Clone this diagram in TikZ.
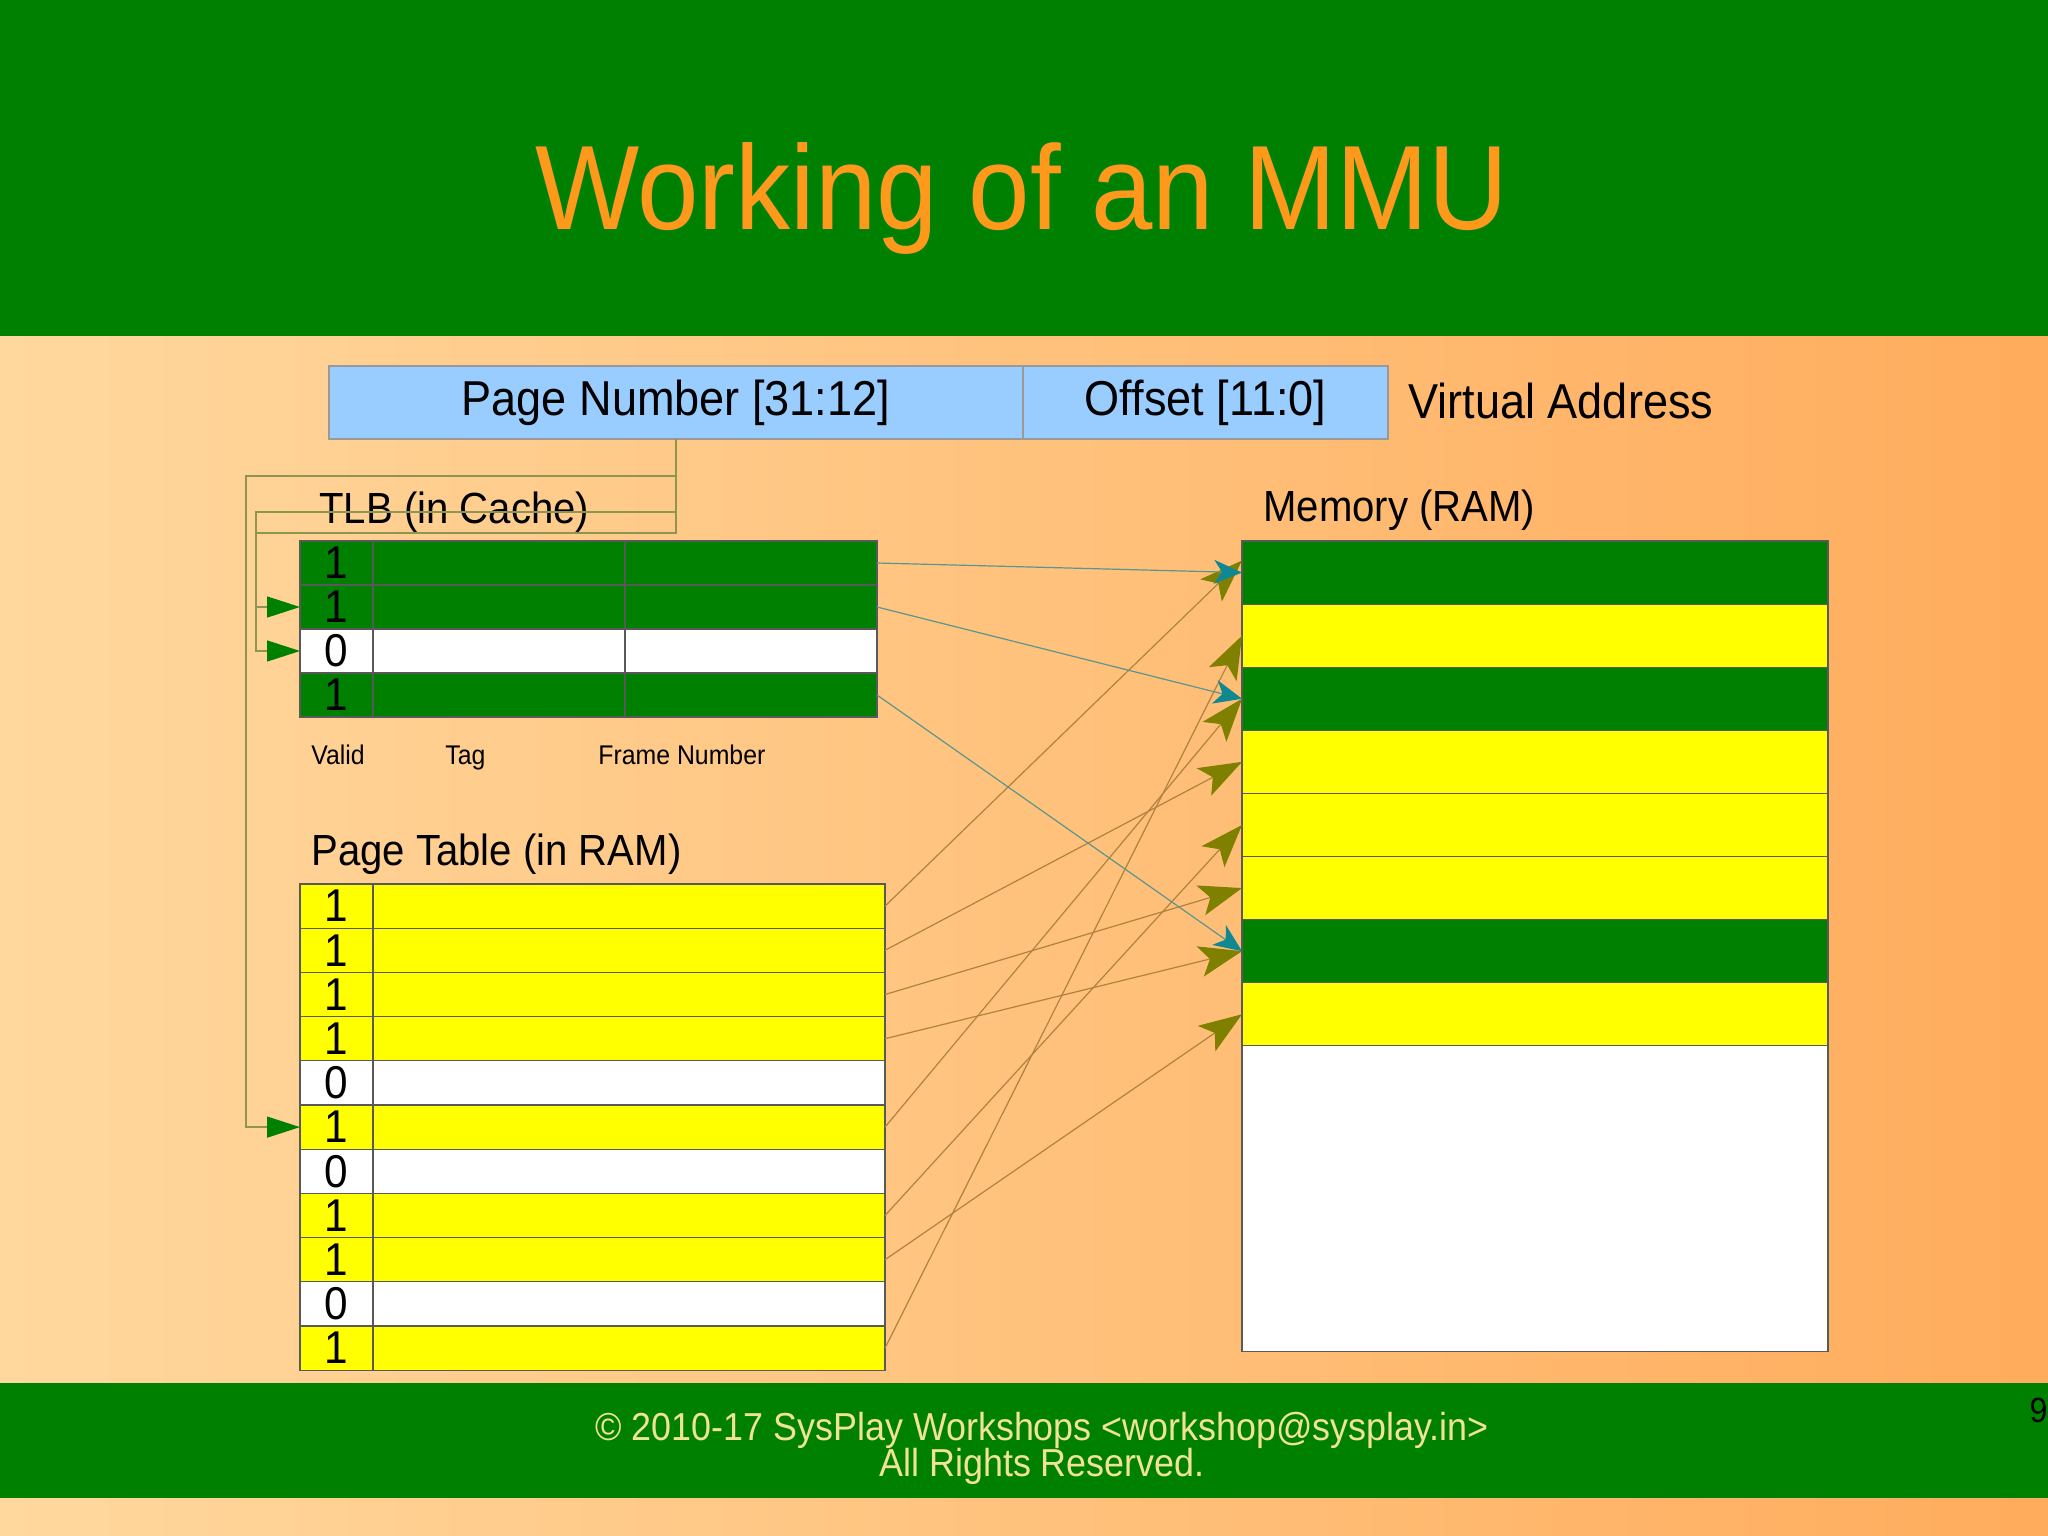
\documentclass[tikz,border=0pt]{standalone}
\usepackage{fontspec}
\setmainfont{Liberation Sans}[FakeStretch=0.92]
\usetikzlibrary{arrows.meta, positioning, calc}

\definecolor{slidegreen}{RGB}{0,128,0}
\definecolor{titleorange}{RGB}{255,153,28}
\definecolor{footyellow}{RGB}{240,226,150}
\definecolor{bgleft}{RGB}{255,216,158}
\definecolor{bgright}{RGB}{255,172,92}
\definecolor{vablue}{RGB}{153,204,255}
\definecolor{memyellow}{RGB}{255,255,0}
\definecolor{routecol}{RGB}{140,150,80}
\definecolor{ptecol}{RGB}{176,130,64}
\definecolor{ptehead}{RGB}{128,128,0}
\definecolor{tlbcol}{RGB}{90,150,140}
\definecolor{tlbhead}{RGB}{16,136,145}

\begin{document}
\begin{tikzpicture}[x=0.5pt, y=-0.5pt]
  % Styles
  \tikzstyle{cell} = [rectangle, draw=black!65, line width=0.6pt, inner sep=0pt, outer sep=0pt]
  \tikzstyle{vabox} = [cell, draw=black!40, fill=vablue, minimum height=36.5pt, font=\fontsize{24.5}{26}\selectfont]
  \tikzstyle{tlbbit} = [cell, minimum width=36.5pt, minimum height=22pt, font=\fontsize{23}{24}\selectfont]
  \tikzstyle{tlbbody} = [cell, minimum width=126pt, minimum height=22pt]
  \tikzstyle{ptbit} = [cell, minimum width=36.5pt, minimum height=22.1pt, font=\fontsize{23}{24}\selectfont]
  \tikzstyle{ptbody} = [cell, minimum width=256pt, minimum height=22.1pt]
  \tikzstyle{tlbon} = [fill=slidegreen]
  \tikzstyle{pton} = [fill=memyellow]
  \tikzstyle{entryoff} = [fill=white]
  \tikzstyle{memrow} = [cell, minimum width=293pt, minimum height=31.55pt]
  \tikzstyle{caption} = [anchor=base west, inner sep=0pt, font=\fontsize{21.8}{23}\selectfont]
  \tikzstyle{colname} = [anchor=base west, inner sep=0pt, font=\fontsize{13.5}{15}\selectfont]
  \tikzstyle{footer} = [anchor=base, inner sep=0pt, text=footyellow, font=\fontsize{19.5}{21}\selectfont]
  \tikzstyle{route} = [draw=routecol, line width=0.7pt]
  \tikzstyle{lookup} = [route, -{Triangle[length=16.5pt, width=10.5pt, color=slidegreen]}]
  \tikzstyle{ptemap} = [draw=ptecol, line width=0.6pt, -{Stealth[length=21.5pt, width=15.5pt, inset=5pt, color=ptehead]}]
  \tikzstyle{tlbmap} = [draw=tlbcol, line width=0.6pt, -{Stealth[length=14pt, width=12pt, inset=4pt, color=tlbhead]}]

  \useasboundingbox (0,0) rectangle (2048,1535);

  % Slide background
  \shade[left color=bgleft, right color=bgright] (0,0) rectangle (2048,1535);
  \fill[slidegreen] (0,0) rectangle (2048,336);
  \fill[slidegreen] (0,1383) rectangle (2048,1498);
  \node[anchor=base, inner sep=0pt, text=titleorange, font=\fontsize{60}{66}\selectfont] (title) at (1022,230) {Working of an MMU};

  % Virtual address
  \node[vabox, minimum width=347pt, anchor=north west] (pn) at (329,366) {Page Number [31:12]};
  \node[vabox, minimum width=182.5pt, right=0pt of pn] (off) {Offset [11:0]};
  \node[anchor=base west, inner sep=0pt, font=\fontsize{24.5}{26}\selectfont] (va) at (1408,418) {Virtual Address};

  % TLB
  \node[caption] (tlbcap) at (319,523) {TLB (in Cache)};
  \node[tlbbit, tlbon, anchor=north west] (tv1) at (300,541) {1}; \node[tlbbody, tlbon, right=0pt of tv1] (tt1) {}; \node[tlbbody, tlbon, right=0pt of tt1] (tf1) {};
  \node[tlbbit, tlbon, below=0pt of tv1] (tv2) {1}; \node[tlbbody, tlbon, right=0pt of tv2] (tt2) {}; \node[tlbbody, tlbon, right=0pt of tt2] (tf2) {};
  \node[tlbbit, entryoff, below=0pt of tv2] (tv3) {0}; \node[tlbbody, entryoff, right=0pt of tv3] (tt3) {}; \node[tlbbody, entryoff, right=0pt of tt3] (tf3) {};
  \node[tlbbit, tlbon, below=0pt of tv3] (tv4) {1}; \node[tlbbody, tlbon, right=0pt of tv4] (tt4) {}; \node[tlbbody, tlbon, right=0pt of tt4] (tf4) {};
  \node[colname] (cvalid) at (311,764) {Valid};
  \node[colname] (ctag) at (445,764) {Tag};
  \node[colname] (cframe) at (598,764) {Frame Number};

  % Page table
  \node[caption] (ptcap) at (311,865) {Page Table (in RAM)};
  \node[ptbit, pton, anchor=north west] (pv1) at (300,884) {1}; \node[ptbody, pton, right=0pt of pv1] (pe1) {};
  \node[ptbit, pton, below=0pt of pv1] (pv2) {1}; \node[ptbody, pton, right=0pt of pv2] (pe2) {};
  \node[ptbit, pton, below=0pt of pv2] (pv3) {1}; \node[ptbody, pton, right=0pt of pv3] (pe3) {};
  \node[ptbit, pton, below=0pt of pv3] (pv4) {1}; \node[ptbody, pton, right=0pt of pv4] (pe4) {};
  \node[ptbit, entryoff, below=0pt of pv4] (pv5) {0}; \node[ptbody, entryoff, right=0pt of pv5] (pe5) {};
  \node[ptbit, pton, below=0pt of pv5] (pv6) {1}; \node[ptbody, pton, right=0pt of pv6] (pe6) {};
  \node[ptbit, entryoff, below=0pt of pv6] (pv7) {0}; \node[ptbody, entryoff, right=0pt of pv7] (pe7) {};
  \node[ptbit, pton, below=0pt of pv7] (pv8) {1}; \node[ptbody, pton, right=0pt of pv8] (pe8) {};
  \node[ptbit, pton, below=0pt of pv8] (pv9) {1}; \node[ptbody, pton, right=0pt of pv9] (pe9) {};
  \node[ptbit, entryoff, below=0pt of pv9] (pv10) {0}; \node[ptbody, entryoff, right=0pt of pv10] (pe10) {};
  \node[ptbit, pton, below=0pt of pv10] (pv11) {1}; \node[ptbody, pton, right=0pt of pv11] (pe11) {};

  % Memory frames
  \node[caption] (memcap) at (1263,521) {Memory (RAM)};
  \node[memrow, fill=slidegreen, anchor=north west] (mem1) at (1242,541) {};
  \node[memrow, fill=memyellow, below=0pt of mem1] (mem2) {};
  \node[memrow, fill=slidegreen, below=0pt of mem2] (mem3) {};
  \node[memrow, fill=memyellow, below=0pt of mem3] (mem4) {};
  \node[memrow, fill=memyellow, below=0pt of mem4] (mem5) {};
  \node[memrow, fill=memyellow, below=0pt of mem5] (mem6) {};
  \node[memrow, fill=slidegreen, below=0pt of mem6] (mem7) {};
  \node[memrow, fill=memyellow, below=0pt of mem7] (mem8) {};
  \node[memrow, fill=white, minimum height=153pt, below=0pt of mem8] (memfree) {};

  % Page number lookup
  \coordinate (pnfoot) at ($(pn.south)+(0,94)$);
  \coordinate (loL) at (256,533);
  \coordinate (midR) at (676,512);
  \coordinate (midL) at (256,512);
  \coordinate (hiR) at (676,476);
  \coordinate (hiL) at (246,476);
  \draw[route] (pn.south) -- (pnfoot) -- (loL);
  \draw[lookup] (midR) -- (midL) |- (tv3.west);
  \draw[lookup] (tv2.west -| midL) -- (tv2.west);
  \draw[lookup] (hiR) -- (hiL) |- (pv6.west);

  % Page table -> frames
  \draw[ptemap] (pe1.east) -- ([yshift=6pt]mem1.west);
  \draw[ptemap] (pe2.east) -- (mem4.west);
  \draw[ptemap] (pe3.east) -- (mem6.west);
  \draw[ptemap] (pe4.east) -- (mem7.west);
  \draw[ptemap] (pe6.east) -- (mem3.west);
  \draw[ptemap] (pe8.east) -- (mem5.west);
  \draw[ptemap] (pe9.east) -- (mem8.west);
  \draw[ptemap] (pe11.east) -- (mem2.west);

  % TLB -> frames
  \draw[tlbmap] (tf1.east) -- (mem1.west);
  \draw[tlbmap] (tf2.east) -- (mem3.west);
  \draw[tlbmap] (tf4.east) -- (mem7.west);

  % Footer
  \node[footer] (copy) at (1042,1440) {© 2010-17 SysPlay Workshops <workshop@sysplay.in>};
  \node[footer] (rights) at (1042,1476) {All Rights Reserved.};
  \node[anchor=base east, inner sep=0pt, font=\fontsize{17.5}{19}\selectfont] (pageno) at (2048,1422) {9};
\end{tikzpicture}
\end{document}
